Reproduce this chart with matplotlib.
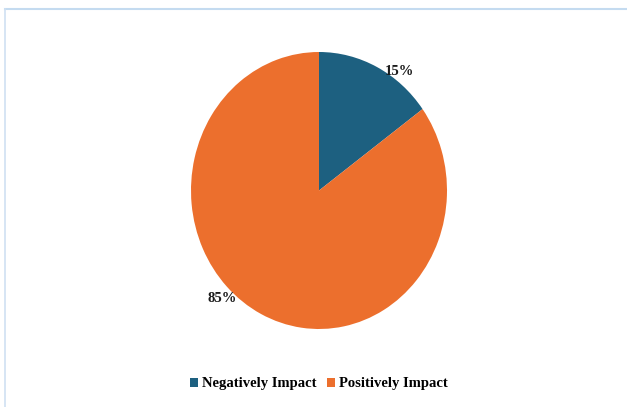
import matplotlib.pyplot as plt
from matplotlib.lines import Line2D

labels = ["Negatively Impact", "Positively Impact"]
values = [15, 85]
colors = ["#1d6080", "#ec6f2d"]

plt.rcParams['font.family'] = ['Liberation Serif', 'DejaVu Serif']

fig = plt.figure(figsize=(6.27, 4.07), dpi=100)
# the pie in the original is slightly taller than wide
ax = fig.add_axes([191 / 627, 78 / 407, 256 / 627, 277 / 407])
wedges, _ = ax.pie(values, colors=colors, startangle=90, counterclock=False,
                   wedgeprops=dict(linewidth=0))
ax.set_aspect('auto')
ax.set_xlim(-1, 1)
ax.set_ylim(-1, 1)

# label placement in pie coordinates
label_pos = [(0.63, 0.86), (-0.76, -0.78)]
for v, (x, y) in zip(values, label_pos):
    ax.text(x, y, f"{v}%", ha='center', va='center',
            fontsize=10.5, fontweight='bold', color='#1a1a1a', clip_on=False)

fig.legend(wedges, labels, loc='center', bbox_to_anchor=(319 / 627, 1 - 384 / 407),
           ncol=2, frameon=False, handlelength=0.55, handleheight=0.55,
           handletextpad=0.3, columnspacing=0.7,
           prop=dict(size=10.5, weight='bold'))

# light blue frame
fig.add_artist(Line2D([5 / 627, 1], [1 - 9 / 407, 1 - 9 / 407], color='#c4dbf0', lw=1.5))
fig.add_artist(Line2D([5 / 627, 5 / 627], [0, 1 - 9 / 407], color='#cfe0f2', lw=1.2))

fig.savefig('out.png', dpi=100)
